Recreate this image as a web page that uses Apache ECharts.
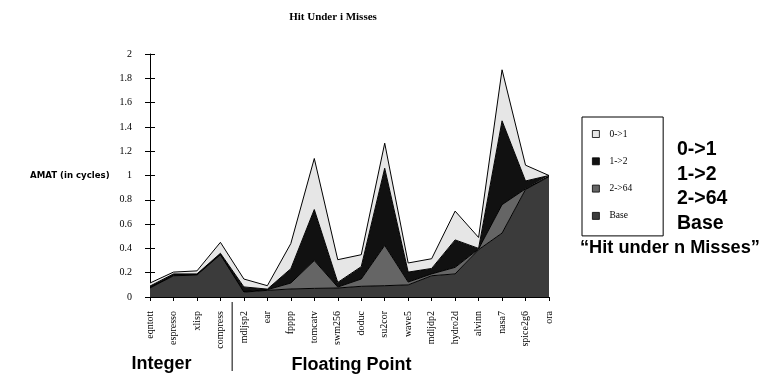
<!DOCTYPE html>
<html>
<head>
<meta charset="utf-8">
<script src="https://cdn.jsdelivr.net/npm/echarts@6/dist/echarts.min.js"></script>
<style>html,body{margin:0;padding:0;background:#fff;}#c{width:765px;height:376px;}</style>
</head>
<body>
<div id="c"></div>
<script>
const categories = ['eqntott','espresso','xlisp','compress','mdljsp2','ear','fpppp','tomcatv','swm256','doduc','su2cor','wave5','mdljdp2','hydro2d','alvinn','nasa7','spice2g6','ora'];
// stacked increments (cycles)
const base   = [0.074,0.175,0.18,0.35,0.04,0.055,0.066,0.071,0.074,0.088,0.093,0.10,0.175,0.19,0.39,0.526,0.885,0.99];
const m2to64 = [0.004,0.005,0.005,0.0,0.005,0.005,0.049,0.229,0.008,0.06,0.332,0.023,0.015,0.054,0.005,0.234,0.005,0.005];
const m1to2  = [0.012,0.01,0.005,0.01,0.038,0.005,0.118,0.42,0.038,0.102,0.635,0.082,0.045,0.226,0.005,0.69,0.065,0.005];
const m0to1  = [0.025,0.015,0.025,0.09,0.065,0.028,0.207,0.42,0.187,0.098,0.206,0.075,0.08,0.237,0.09,0.42,0.13,0.0];
const yTicks = {min:0, max:2, interval:0.2};
const sideLabels = ['0->1','1->2','2->64','Base'];

const chart = echarts.init(document.getElementById('c'));
function mk(name, data, color){
  return {name, type:'line', stack:'t', data, symbol:'none', color,
    itemStyle:{color},
    lineStyle:{color:'#000', width:1},
    areaStyle:{color, opacity:1}, z:2};
}
const option = {
  animation:false,
  title:{text:'Hit Under i Misses', left:328, top:7, textAlign:'center',
    textStyle:{fontFamily:'Liberation Serif', fontWeight:'bold', fontSize:11, color:'#000'}},
  grid:{left:150, right:216, top:54, bottom:79},
  legend:{orient:'vertical', left:582, top:117,
    data:['0->1','1->2','2->64','Base'],
    icon:'rect', itemWidth:7, itemHeight:7, itemGap:17.3,
    padding:[12,31,15,10], borderColor:'#000', borderWidth:1,
    itemStyle:{borderColor:'#000', borderWidth:0.8},
    textStyle:{fontFamily:'Liberation Serif', fontSize:9.5, color:'#000', lineHeight:10, padding:[0,0,0,5]}},
  xAxis:{type:'category', data:categories, boundaryGap:false,
    axisLine:{lineStyle:{color:'#000', width:1}},
    axisTick:{show:true, length:4, lineStyle:{color:'#000'}},
    axisLabel:{rotate:90, margin:14, interval:0, fontFamily:'Liberation Serif', fontSize:10, color:'#000'}},
  yAxis:[
    {type:'value', min:yTicks.min, max:yTicks.max, interval:yTicks.interval,
      axisLine:{show:true, lineStyle:{color:'#000', width:1}},
      axisTick:{show:true, length:5, lineStyle:{color:'#000'}},
      splitLine:{show:false},
      axisLabel:{margin:18, fontFamily:'Liberation Serif', fontSize:10, color:'#000'}},
    {type:'value', min:yTicks.min, max:yTicks.max, interval:yTicks.interval, position:'left',
      axisLine:{show:false}, axisLabel:{show:false}, splitLine:{show:false},
      axisTick:{show:true, inside:true, length:5, lineStyle:{color:'#000'}}}
  ],
  series:[
    mk('Base', base, '#3b3b3b'),
    mk('2->64', m2to64, '#656565'),
    mk('1->2', m1to2, '#111111'),
    mk('0->1', m0to1, '#e6e6e6')
  ]
};
chart.setOption(option);

const xa = chart.convertToPixel({xAxisIndex:0}, 'compress');
const xb = chart.convertToPixel({xAxisIndex:0}, 'mdljsp2');
const sepX = (xa + xb) / 2;
const g = [
  {type:'line', shape:{x1:sepX, y1:302, x2:sepX, y2:371}, style:{stroke:'#000', lineWidth:1}},
  {type:'text', x:30, y:176, style:{text:'AMAT (in cycles)', font:'bold 8.6px "DejaVu Sans"', fill:'#000', textAlign:'left', textVerticalAlign:'middle'}},
  {type:'text', x:161.5, y:364, style:{text:'Integer', font:'bold 18px "Liberation Sans"', fill:'#000', textAlign:'center', textVerticalAlign:'middle'}},
  {type:'text', x:351.5, y:365, style:{text:'Floating Point', font:'bold 18px "Liberation Sans"', fill:'#000', textAlign:'center', textVerticalAlign:'middle'}},
  {type:'text', x:580, y:248, style:{text:'\u201cHit under n Misses\u201d', font:'bold 18.2px "Liberation Sans"', fill:'#000', textAlign:'left', textVerticalAlign:'middle'}}
];
sideLabels.forEach((t,i)=>{
  g.push({type:'text', x:677, y:150 + i*24.5, style:{text:t, font:'bold 19.5px "Liberation Sans"', fill:'#000', textAlign:'left', textVerticalAlign:'middle'}});
});
chart.setOption({graphic:g});
</script>
</body>
</html>
